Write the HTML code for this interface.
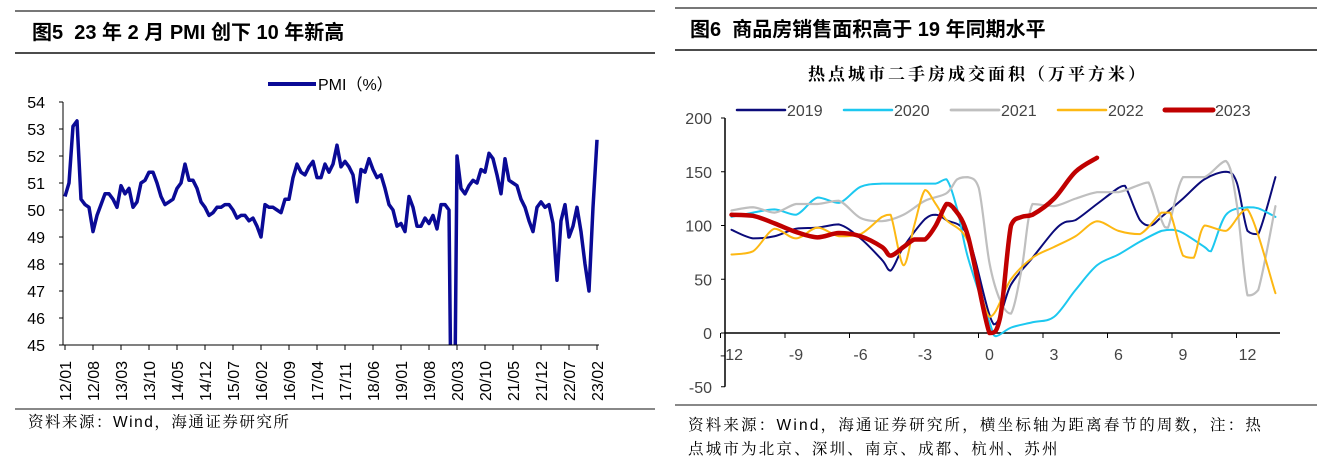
<!DOCTYPE html>
<html><head><meta charset="utf-8"><style>
html,body{margin:0;padding:0;background:#fff;width:1324px;height:466px;overflow:hidden;font-family:"Liberation Sans","Noto Sans CJK SC",sans-serif}
svg{position:absolute;left:0;top:0;display:block}
text{white-space:pre}
</style></head><body>
<svg id="s" width="1324" height="466">
<line x1="15" y1="11" x2="655" y2="11" stroke="#777" stroke-width="2"/>
<line x1="15" y1="53" x2="655" y2="53" stroke="#111" stroke-width="1.5"/>
<line x1="15" y1="409" x2="655" y2="409" stroke="#111" stroke-width="1"/>
<text x="32" y="39" font-size="20" font-weight="bold" fill="#000" xml:space="preserve">图5  23 年 2 月 PMI 创下 10 年新高</text>
<text x="28" y="427" font-size="15.5" letter-spacing="1.5" fill="#000" font-family="Liberation Sans,Noto Serif CJK SC,serif">资料来源：Wind，海通证券研究所</text>

<line x1="675" y1="8" x2="1317" y2="8" stroke="#777" stroke-width="2"/>
<line x1="675" y1="50" x2="1317" y2="50" stroke="#111" stroke-width="1.5"/>
<line x1="675" y1="405" x2="1317" y2="405" stroke="#111" stroke-width="1"/>
<text x="690" y="36" font-size="20" font-weight="bold" fill="#000" xml:space="preserve">图6  商品房销售面积高于 19 年同期水平</text>
<text x="978" y="80" font-size="17" letter-spacing="3" font-weight="bold" text-anchor="middle" font-family="Liberation Serif,Noto Serif CJK SC,serif">热点城市二手房成交面积（万平方米）</text>
<text x="688" y="430" font-size="15.5" letter-spacing="2.2" font-family="Liberation Sans,Noto Serif CJK SC,serif">资料来源：Wind，海通证券研究所，横坐标轴为距离春节的周数，注：热</text>
<text x="688" y="454" font-size="15.5" letter-spacing="2.2" font-family="Liberation Sans,Noto Serif CJK SC,serif">点城市为北京、深圳、南京、成都、杭州、苏州</text>
<g id="L"></g><g id="R"></g>
</svg>
<script>
// ---- Left chart data ----
const pmiValues=[50.5,51.0,53.1,53.3,50.4,50.2,50.1,49.2,49.8,50.2,50.6,50.6,
50.4,50.1,50.9,50.6,50.8,50.1,50.3,51.0,51.1,51.4,51.4,51.0,
50.5,50.2,50.3,50.4,50.8,51.0,51.7,51.1,51.1,50.8,50.3,50.1,
49.8,49.9,50.1,50.1,50.2,50.2,50.0,49.7,49.8,49.8,49.6,49.7,
49.4,49.0,50.2,50.1,50.1,50.0,49.9,50.4,50.4,51.2,51.7,51.4,
51.3,51.6,51.8,51.2,51.2,51.7,51.4,51.7,52.4,51.6,51.8,51.6,
51.3,50.3,51.5,51.4,51.9,51.5,51.2,51.3,50.8,50.2,50.0,49.4,
49.5,49.2,50.5,50.1,49.4,49.4,49.7,49.5,49.8,49.3,50.2,50.2,
50.0,35.7,52.0,50.8,50.6,50.9,51.1,51.0,51.5,51.4,52.1,51.9,
51.3,50.6,51.9,51.1,51.0,50.9,50.4,50.1,49.6,49.2,50.1,50.3,
50.1,50.2,49.5,47.4,49.6,50.2,49.0,49.4,50.1,49.2,48.0,47.0,
50.1,52.6];
const pmiTickLabels=["12/01","12/08","13/03","13/10","14/05","14/12","15/07","16/02","16/09","17/04","17/11","18/06","19/01","19/08","20/03","20/10","21/05","21/12","22/07","23/02"];
const pmiYTicks=[45,46,47,48,49,50,51,52,53,54];

// ---- Right chart data ----
const weeks2019=[-12,-11,-10,-9,-8,-7,-6,-5,-4.6,-4,-3,-2.5,-2,-1,0.2,1,2,3,3.5,4,5,6,6.3,7,7.5,8,9,10,11,11.5,12,12.5,13.3];
const vals2019=[96,88,90,97,98,101,88,68,58,80,106,110,105,90,8,45,70,95,103,105,120,135,137,105,100,108,125,143,150,140,95,92,145];
const weeks2020=[-12,-11,-10,-9,-8,-7,-6,-5,-4,-3,-2.5,-2,-1.5,-1,0,0.3,1,2,3,4,5,6,7,8,8.5,9,10,10.3,11,12,12.5,13.3];
const vals2020=[108,112,115,110,126,121,136,139,139,139,139,143,115,70,10,-3,5,10,15,40,63,73,85,95,96,93,80,76,110,117,116,108];
const weeks2021=[-12,-11,-10,-9,-8,-7,-6,-5,-4,-3,-2,-1.5,-1,-0.5,0,0.5,1,1.5,2,3,4,5,6,7,7.4,8,8.3,9,10,11,11.5,12,12.5,13.3];
const vals2021=[114,117,112,120,120,123,107,104,110,123,130,143,145,135,65,30,18,60,120,118,125,131,131,138,140,105,98,145,145,160,120,35,40,118];
const weeks2022=[-12,-11,-10,-9,-8,-7,-6,-5,-4.6,-4,-3.5,-3,-2.5,-2,-1,0,1,2,3,4,5,6,7,8,8.4,9,9.5,10,11,12,13.3];
const vals2022=[73,76,97,88,98,90,92,108,110,63,100,133,120,105,85,15,50,70,80,90,104,95,92,112,112,72,70,100,95,115,37];
const weeks2023=[-12,-11,-10,-9,-8,-7,-6,-5,-4.6,-4,-3.5,-3,-2.5,-2,-1.7,-1,0,0.5,1,1.5,2,3,4,5];
const vals2023=[110,109,102,94,89,93,90,80,72,80,87,87,100,120,117,90,0,15,100,108,110,125,150,163];
const yearLabels=["2019","2020","2021","2022","2023"];
const rYTicks=[-50,0,50,100,150,200];
const rXTicks=[-12,-9,-6,-3,0,3,6,9,12];

const NS="http://www.w3.org/2000/svg";
function mk(p,t,a){const e=document.createElementNS(NS,t);for(const k in a)e.setAttribute(k,a[k]);p.appendChild(e);return e;}
function smooth(pts){let d="M"+pts[0][0]+","+pts[0][1];
 for(let i=0;i<pts.length-1;i++){const p0=pts[i-1]||pts[i],p1=pts[i],p2=pts[i+1],p3=pts[i+2]||p2;const t=6;
  const lo=Math.min(p1[1],p2[1]),hi=Math.max(p1[1],p2[1]);const c=v=>Math.max(lo,Math.min(hi,v));
  d+=" C"+(p1[0]+(p2[0]-p0[0])/t)+","+c(p1[1]+(p2[1]-p0[1])/t)+" "+(p2[0]-(p3[0]-p1[0])/t)+","+c(p2[1]-(p3[1]-p1[1])/t)+" "+p2[0]+","+p2[1];}
 return d;}

// Left chart
const L=document.getElementById("L");
const lx0=65,lx1=597,ly0=345,ly1=102;
const lX=i=>lx0+i*(lx1-lx0)/(pmiValues.length-1);
const lY=v=>ly0-(v-45)*(ly0-ly1)/9;
let e;
pmiYTicks.forEach(v=>{
 e=mk(L,"line",{x1:59,x2:63,y1:lY(v),y2:lY(v),stroke:"#000"});
 
 
 e=mk(L,"text",{x:45,y:lY(v)+6,"font-size":16,"text-anchor":"end"});e.textContent=v;
 
 
});
pmiTickLabels.forEach((s,k)=>{const x=lX(k*7);
 e=mk(L,"line",{x1:x,x2:x,y1:ly0,y2:ly0+5,stroke:"#000"});
 
 
 e=mk(L,"text",{x:0,y:0,"font-size":16,transform:`translate(${x+6},${ly0+56}) rotate(-90)`});e.textContent=s;
 
 
});
const clip=mk(L,"clipPath",{id:"lc"});mk(clip,"rect",{x:lx0-5,y:ly1-20,width:lx1-lx0+10,height:ly0-ly1+20});
e=mk(L,"polyline",{points:pmiValues.map((v,i)=>lX(i)+","+lY(v)).join(" "),fill:"none",stroke:"#0a0a96","stroke-width":3.5,"stroke-linejoin":"round","clip-path":"url(#lc)"});


e=mk(L,"line",{x1:lx0-2,x2:lx0-2,y1:ly1,y2:ly0,stroke:"#000"});


e=mk(L,"line",{x1:lx0-2,x2:lx1+2,y1:ly0,y2:ly0,stroke:"#000"});


e=mk(L,"line",{x1:268,x2:316,y1:84,y2:84,stroke:"#0a0a96","stroke-width":4});


e=mk(L,"text",{x:318,y:90,"font-size":16});e.textContent="PMI（%）";



// Right chart
const R=document.getElementById("R");
const rx0=725,rx1=1280;
const rX=w=>1054+(w-3)*21.5;
const rY=v=>333-v*1.075;
rYTicks.forEach(v=>{
 e=mk(R,"line",{x1:rx0-4,x2:rx0,y1:rY(v),y2:rY(v),stroke:"#000"});
 
 
 e=mk(R,"text",{x:712,y:rY(v)+6,"font-size":16,"text-anchor":"end",fill:"#444"});e.textContent=v;
 
 
});
rXTicks.forEach(w=>{const x=rX(w);
 e=mk(R,"line",{x1:x-11,x2:x-11,y1:333,y2:338,stroke:"#000"});
 
 
 e=mk(R,"text",{x:x,y:360,"font-size":16,"text-anchor":"middle",fill:"#444"});e.textContent=w;
 
 
});
e=mk(R,"line",{x1:rx0,x2:rx0,y1:rY(200),y2:rY(-50),stroke:"#000","stroke-width":1.5});


e=mk(R,"line",{x1:rx0,x2:rx1,y1:333,y2:333,stroke:"#000","stroke-width":1.5});


const series=[[weeks2019,vals2019,"#0b0b7a",2],[weeks2020,vals2020,"#1cc8f0",2],[weeks2021,vals2021,"#bfbfbf",2.2],[weeks2022,vals2022,"#fdb813",2],[weeks2023,vals2023,"#c00000",4.5]];
series.forEach((s,i)=>{
 e=mk(R,"path",{d:smooth(s[0].map((w,j)=>[rX(w),rY(s[1][j])])),fill:"none",stroke:s[2],"stroke-width":s[3],"stroke-linejoin":"round","stroke-linecap":"round"});
 
 
 const lx=737+i*107;
 e=mk(R,"line",{x1:lx,x2:lx+48,y1:110,y2:110,stroke:s[2],"stroke-width":s[3]+0.5,"stroke-linecap":"round"});
 
 
 e=mk(R,"text",{x:lx+50,y:116,"font-size":16,fill:"#444"});e.textContent=yearLabels[i];
 
 
});
</script>
</body></html>
